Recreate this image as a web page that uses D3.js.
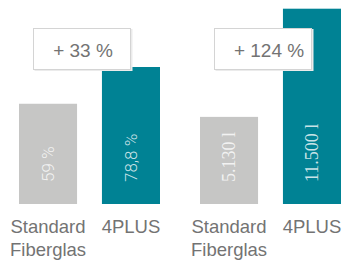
<!DOCTYPE html>
<html>
<head>
<meta charset="utf-8">
<script src="https://cdn.jsdelivr.net/npm/d3@7"></script>
<style>
  body { margin: 0; background: #fff; }
  svg { display: block; }
</style>
</head>
<body>
<svg id="chart" width="356" height="264"></svg>
<script>
// data
const panels = ['percent', 'litres'];
const categories = ['Standard Fiberglas', '4PLUS'];
const percentValues = [59, 78.8];
const litreValues = [5130, 11500];
const percentLabels = ['59 %', '78,8 %'];
const litreLabels = ['5.130 l', '11.500 l'];
const increaseLabels = ['+ 33 %', '+ 124 %'];

const baseY = 204;
const grey = '#c6c6c5';
const teal = '#008294';
const textColor = '#737373';
const sans = '"Liberation Sans", Arial, sans-serif';
const serif = '"Liberation Serif", "Times New Roman", serif';

const svg = d3.select('#chart');

const x0 = d3.scaleBand()
    .domain(panels)
    .range([19, 341])
    .paddingInner(0.221);

const x1 = d3.scaleBand()
    .domain(categories)
    .range([0, x0.bandwidth()])
    .paddingInner(0.3);

// each panel has its own vertical scale
const yScales = {
    percent: d3.scaleLinear().domain([5, 78.8]).range([baseY, 67]),
    litres: d3.scaleLinear().domain([0, 11500]).range([baseY, 8.7])
};

const panelData = [
    { key: 'percent', values: percentValues, labels: percentLabels, font: 'Roboto, "Liberation Sans", sans-serif', size: 17 },
    { key: 'litres', values: litreValues, labels: litreLabels, font: serif, size: 18 }
];

panelData.forEach((p, pi) => {
    const g = svg.append('g')
        .attr('transform', 'translate(' + x0(p.key) + ',0)');
    const y = yScales[p.key];

    const bars = categories.map((c, i) => ({ cat: c, value: p.values[i], label: p.labels[i], color: i === 0 ? grey : teal }));

    g.selectAll('rect.bar')
        .data(bars)
        .enter()
        .append('rect')
        .attr('class', 'bar')
        .attr('x', d => x1(d.cat))
        .attr('y', d => y(d.value))
        .attr('width', x1.bandwidth())
        .attr('height', d => baseY - y(d.value))
        .attr('fill', d => d.color);

    // rotated value labels inside the bars
    g.selectAll('text.value')
        .data(bars)
        .enter()
        .append('text')
        .attr('class', 'value')
        .attr('transform', d => 'translate(' + (x1(d.cat) + x1.bandwidth() / 2) + ',' + (baseY - 22) + ') rotate(-90)')
        .attr('dy', '0.35em')
        .attr('text-anchor', 'start')
        .style('font-family', p.font)
        .style('font-weight', pi === 0 ? 300 : 400)
        .style('font-size', p.size + 'px')
        .style('fill', '#fff')
        .style('fill-opacity', 0.8)
        .text(d => d.label);

    // category labels under the bars
    const cat = g.selectAll('text.cat')
        .data(bars)
        .enter()
        .append('text')
        .attr('class', 'cat')
        .attr('text-anchor', 'middle')
        .style('font-family', sans)
        .style('font-size', '18.5px')
        .style('fill', textColor);
    cat.selectAll('tspan')
        .data(d => d.cat.split(' ').map(w => ({ w: w, x: x1(d.cat) + x1.bandwidth() / 2 })))
        .enter()
        .append('tspan')
        .attr('x', d => d.x)
        .attr('y', (d, i) => 232.5 + i * 23)
        .text(d => d.w);

    // increase box, sits over the bars
    const boxX = x1(categories[0]) + 15;
    const boxW = 98;
    g.append('rect')
        .attr('x', boxX + 0.5)
        .attr('y', 29)
        .attr('width', boxW)
        .attr('height', 42)
        .attr('fill', '#ebebeb');
    g.append('rect')
        .attr('x', boxX - 0.5)
        .attr('y', 28.5)
        .attr('width', boxW - 1)
        .attr('height', 41)
        .attr('fill', '#fff')
        .attr('stroke', '#d4d4d4')
        .attr('stroke-width', 1);
    g.append('text')
        .attr('x', boxX + boxW / 2 + (pi === 0 ? 0 : 5))
        .attr('y', 57)
        .attr('text-anchor', 'middle')
        .style('font-family', sans)
        .style('font-size', '19px')
        .style('fill', textColor)
        .text(increaseLabels[pi]);
});
</script>
</body>
</html>
